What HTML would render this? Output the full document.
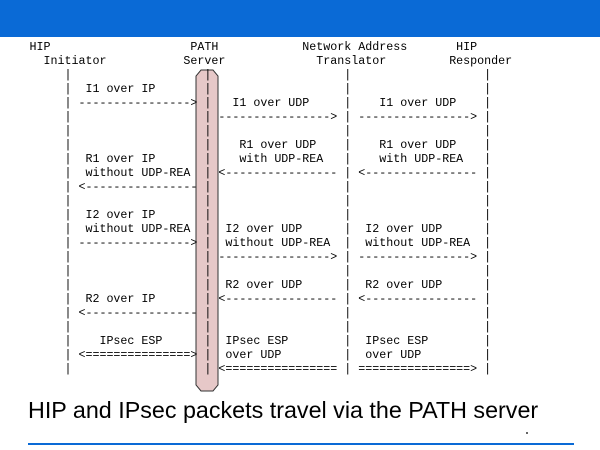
<!DOCTYPE html>
<html><head><meta charset="utf-8"><style>
html,body{margin:0;padding:0;background:#fff;width:600px;height:450px;overflow:hidden;position:relative}
.hdr{position:absolute;left:0;top:0;width:600px;height:37px;background:#0a6ad6}
pre{position:absolute;left:22.5px;top:40px;margin:0;font-family:"Liberation Mono",monospace;font-size:11.67px;line-height:14px;color:#000;z-index:2}
.t{position:absolute;left:28px;top:397px;font-family:"Liberation Sans",sans-serif;font-size:23.3px;color:#000;white-space:nowrap}
.ln{position:absolute;left:28px;top:443px;width:546px;height:2px;background:#0a6ad6}
svg{position:absolute;left:0;top:0;z-index:1}
</style></head><body>
<div class="hdr"></div>
<svg width="600" height="450"><polygon points="201,70 213,70 218,76 218,385 213,391 201,391 196,385 196,76" fill="#e6c8c8" stroke="#333" stroke-width="1"/></svg>
<pre> HIP                    PATH            Network Address       HIP
   Initiator           Server             Translator         Responder
      |                   |                   |                   |
      |  I1 over IP       |                   |                   |
      | ----------------> |   I1 over UDP     |    I1 over UDP    |
      |                   | ----------------> | ----------------> |
      |                   |                   |                   |
      |                   |    R1 over UDP    |    R1 over UDP    |
      |  R1 over IP       |    with UDP-REA   |    with UDP-REA   |
      |  without UDP-REA  | <---------------- | <---------------- |
      | <---------------- |                   |                   |
      |                   |                   |                   |
      |  I2 over IP       |                   |                   |
      |  without UDP-REA  |  I2 over UDP      |  I2 over UDP      |
      | ----------------> |  without UDP-REA  |  without UDP-REA  |
      |                   | ----------------> | ----------------> |
      |                   |                   |                   |
      |                   |  R2 over UDP      |  R2 over UDP      |
      |  R2 over IP       | <---------------- | <---------------- |
      | <---------------- |                   |                   |
      |                   |                   |                   |
      |    IPsec ESP      |  IPsec ESP        |  IPsec ESP        |
      | <===============> |  over UDP         |  over UDP         |
      |                   | <================ | ================> |</pre>
<div class="t">HIP and IPsec packets travel via the PATH server</div>
<div style="position:absolute;left:526px;top:432px;width:2px;height:2px;background:#666"></div>
<div class="ln"></div>
</body></html>
